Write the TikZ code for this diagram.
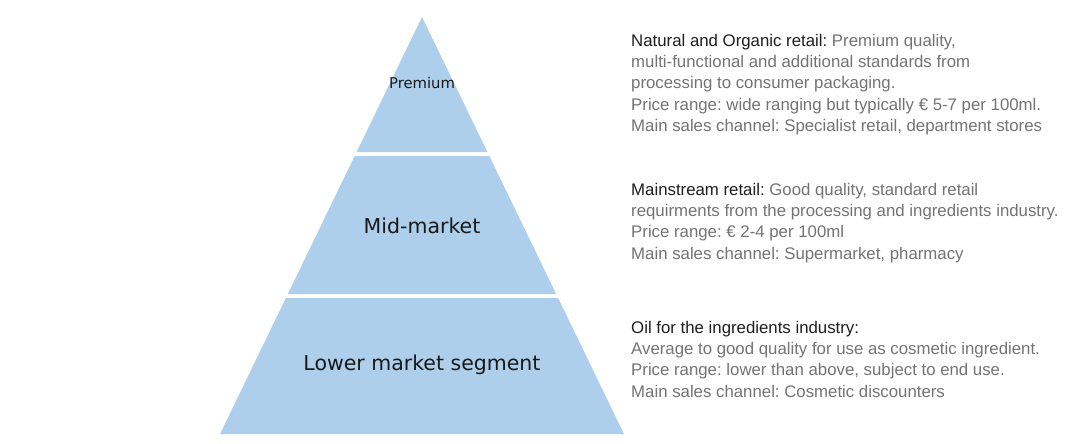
\documentclass[tikz,border=0pt]{standalone}
\usepackage{fontspec}
\setmainfont{Liberation Sans}
\newfontfamily\verd{DejaVu Sans}
\frenchspacing
\definecolor{pyrblue}{RGB}{174,207,235}
\definecolor{headtxt}{RGB}{30,30,30}
\definecolor{bodytxt}{RGB}{115,115,115}
\definecolor{lbltxt}{RGB}{25,25,25}
\begin{document}
\begin{tikzpicture}[x=1pt,y=-1pt,
  tier/.style={fill=pyrblue,draw=none},
  lbl/.style={font=\verd, text=lbltxt, inner sep=0pt, anchor=center},
  desc/.style={font=\fontsize{16.8}{21.3}\selectfont, text=bodytxt, align=left, inner sep=0pt, anchor=north west},
  hd/.style={text=headtxt}]
\useasboundingbox (0,0) rectangle (1073,444);
% pyramid: apex (422,17), base y=434 from 220 to 624; slope 0.4844
\coordinate (apex) at (422,17);
\fill[tier] (apex) -- ({422+0.4844*(152-17)},152) -- ({422-0.4844*(152-17)},152) -- cycle;
\fill[tier] ({422-0.4844*(156-17)},156) -- ({422+0.4844*(156-17)},156) -- ({422+0.4844*(294-17)},294) -- ({422-0.4844*(294-17)},294) -- cycle;
\fill[tier] ({422-0.4844*(298-17)},298) -- ({422+0.4844*(298-17)},298) -- ({422+0.4844*(434-17)},434) -- ({422-0.4844*(434-17)},434) -- cycle;
\node[lbl, font=\verd\fontsize{14.8}{17}\selectfont] (prem) at (422,83) {Premium};
\node[lbl, font=\verd\fontsize{20.5}{24}\selectfont] (mid) at (422,226) {Mid-market};
\node[lbl, font=\verd\fontsize{20.5}{24}\selectfont] (low) at (422,365) {Lower market segment};
\node[desc] (d1) at (631,34) {{\color{headtxt}Natural and Organic retail:} Premium quality,\\
multi-functional and additional standards from\\
processing to consumer packaging.\\
Price range: wide ranging but typically \texteuro{} 5-7 per 100ml.\\
Main sales channel: Specialist retail, department stores};
\node[desc] (d2) at (631,183) {{\color{headtxt}Mainstream retail:} Good quality, standard retail\\
requirments from the processing and ingredients industry.\\
Price range: \texteuro{} 2-4 per 100ml\\
Main sales channel: Supermarket, pharmacy};
\node[desc] (d3) at (631,321) {{\color{headtxt}Oil for the ingredients industry:}\\
Average to good quality for use as cosmetic ingredient.\\
Price range: lower than above, subject to end use.\\
Main sales channel: Cosmetic discounters};
\end{tikzpicture}
\end{document}
